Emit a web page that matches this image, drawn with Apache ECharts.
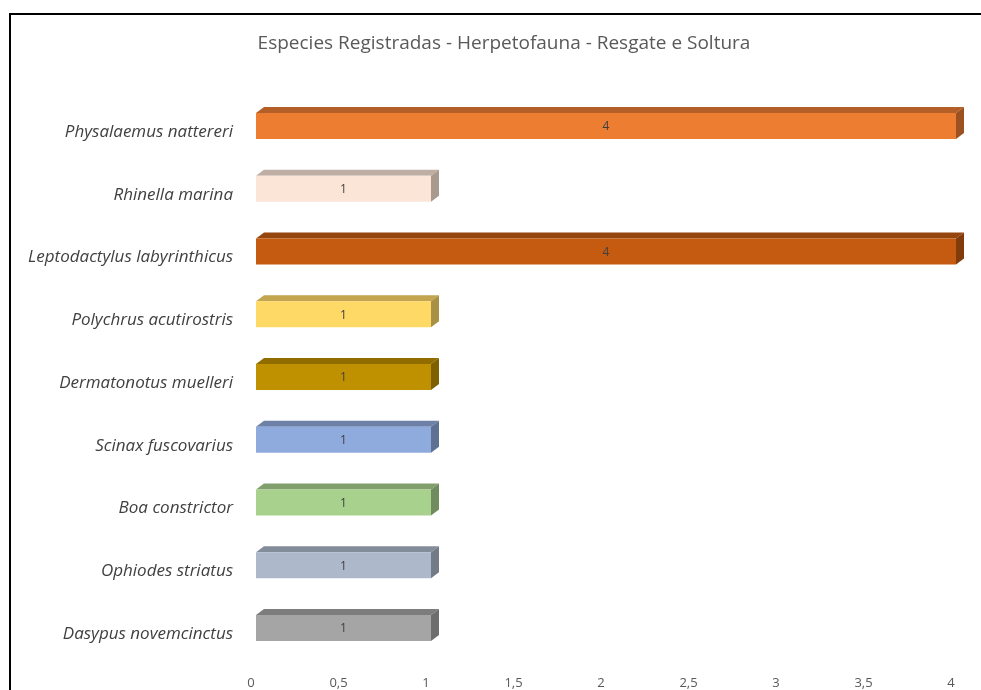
<!DOCTYPE html>
<html>
<head>
<meta charset="utf-8">
<script src="https://cdn.jsdelivr.net/npm/echarts@6/dist/echarts.min.js"></script>
<style>
html,body{margin:0;padding:0;background:#fff;}
#chart{width:981px;height:690px;}
</style>
</head>
<body>
<div id="chart"></div>
<script>
// ---- data ----
var categories = [
  'Physalaemus nattereri',
  'Rhinella marina',
  'Leptodactylus labyrinthicus',
  'Polychrus acutirostris',
  'Dermatonotus muelleri',
  'Scinax fuscovarius',
  'Boa constrictor',
  'Ophiodes striatus',
  'Dasypus novemcinctus'
];
var counts = [4, 1, 4, 1, 1, 1, 1, 1, 1];
var xTicks = [0, 0.5, 1, 1.5, 2, 2.5, 3, 3.5, 4];
var titleText = 'Especies Registradas - Herpetofauna - Resgate e Soltura';

// ---- styles (front, top, side) ----
var palette = [
  ['#ED7D31', '#B35F27', '#9C5220'],
  ['#FBE5D6', '#BFAEA3', '#A89A8F'],
  ['#C55A11', '#95450E', '#823C0B'],
  ['#FFD966', '#C2A54E', '#A89045'],
  ['#BF9000', '#916D00', '#7F6000'],
  ['#8FAADC', '#6D81A7', '#5F7192'],
  ['#A9D18E', '#809F6C', '#708B5E'],
  ['#ADB9CA', '#838D9A', '#737B86'],
  ['#A5A5A5', '#7D7D7D', '#6D6D6D']
];

var FONT = '"Open Sans", Lato, sans-serif';
var DX = 5, DEPTH_X = 8, DEPTH_Y = 6, BAR_H = 26, YSHIFT = -5;

var chart = echarts.init(document.getElementById('chart'), null, {renderer: 'canvas'});

var seriesData = counts.map(function (v, i) { return [v, i]; });

chart.setOption({
  backgroundColor: '#ffffff',
  animation: false,
  title: {
    text: titleText,
    left: 499,
    textAlign: 'center',
    top: 29,
    textStyle: {fontFamily: FONT, fontSize: 19, fontWeight: 'normal', color: '#595959'}
  },
  graphic: [{
    type: 'rect',
    shape: {x: 10, y: 14, width: 1200, height: 900},
    style: {fill: 'none', stroke: '#000000', lineWidth: 2},
    silent: true,
    z: 100
  }],
  grid: {left: 251, right: 30, top: 100.6, bottom: 24.6, containLabel: false},
  xAxis: {
    type: 'value',
    min: 0,
    max: 4,
    interval: 0.5,
    axisLine: {show: false},
    axisTick: {show: false},
    splitLine: {show: false},
    axisLabel: {
      margin: 11,
      fontFamily: FONT,
      fontSize: 13,
      color: '#595959',
      formatter: function (v) { return String(v).replace('.', ','); }
    }
  },
  yAxis: {
    type: 'category',
    data: categories,
    inverse: true,
    axisLine: {show: false},
    axisTick: {show: false},
    splitLine: {show: false},
    axisLabel: {
      margin: 18,
      fontFamily: FONT,
      fontStyle: 'italic',
      fontSize: 17,
      color: '#404040'
    }
  },
  series: [{
    type: 'custom',
    data: seriesData,
    encode: {x: 0, y: 1},
    renderItem: function (params, api) {
      var v = api.value(0), idx = api.value(1);
      var p0 = api.coord([0, idx]);
      var p1 = api.coord([v, idx]);
      var x0 = p0[0] + DX, x1 = p1[0] + DX;
      var yc = p0[1] + YSHIFT - 1;
      var yt = yc - BAR_H / 2, yb = yc + BAR_H / 2;
      var c = palette[idx % palette.length];
      return {
        type: 'group',
        children: [
          {
            type: 'polygon',
            shape: {points: [[x0, yt], [x1, yt], [x1 + DEPTH_X, yt - DEPTH_Y], [x0 + DEPTH_X, yt - DEPTH_Y]]},
            style: {fill: c[1]}
          },
          {
            type: 'polygon',
            shape: {points: [[x1, yt], [x1 + DEPTH_X, yt - DEPTH_Y], [x1 + DEPTH_X, yb - DEPTH_Y], [x1, yb]]},
            style: {fill: c[2]}
          },
          {
            type: 'rect',
            shape: {x: x0, y: yt, width: x1 - x0, height: BAR_H},
            style: {fill: c[0]}
          },
          {
            type: 'text',
            x: (x0 + x1) / 2,
            y: yc + 1,
            style: {
              text: String(v),
              align: 'center',
              verticalAlign: 'middle',
              fontFamily: FONT,
              fontSize: 12,
              fill: '#404040'
            }
          }
        ]
      };
    }
  }]
});
</script>
</body>
</html>
